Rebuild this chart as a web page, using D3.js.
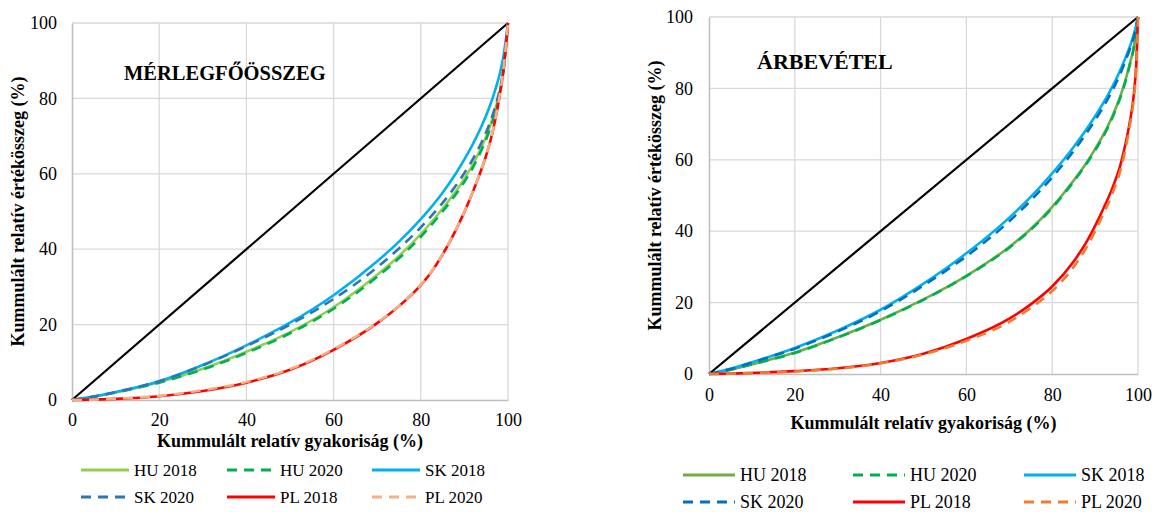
<!DOCTYPE html>
<html><head><meta charset="utf-8">
<script src="https://cdn.jsdelivr.net/npm/d3@7"></script>
<style>
body{margin:0;background:#fff;}
text{font-family:"Liberation Serif","Times New Roman",serif;fill:#000;}
</style></head>
<body><svg id="c" width="1152" height="512"></svg>
<script>
// ---------- DATA ----------
const xTicks = [0, 20, 40, 60, 80, 100];
const yTicks = [0, 20, 40, 60, 80, 100];
const seriesNames = ["HU 2018", "HU 2020", "SK 2018", "SK 2020", "PL 2018", "PL 2020"];
const equality = [[0, 0], [100, 100]];

// Mérlegfőösszeg (left)
const mHU2018 = [[0,0],[5,0.9],[10,2],[20,4.7],[30,8.3],[40,12.8],[50,18],[60,24.6],[70,33.2],[75,38.2],[80,44],[85,50.8],[88,55.3],[90,58.7],[92,62.6],[94,67.3],[96,73],[97,76.8],[98,81.3],[99,88],[100,100]];
const mHU2020 = [[0,0],[5,0.9],[10,2],[20,4.6],[30,8.1],[40,12.5],[50,17.7],[60,24.2],[70,32.7],[75,37.6],[80,43.3],[85,50],[88,54.5],[90,57.9],[92,61.8],[94,66.5],[96,72.3],[97,76],[98,80.6],[99,87.4],[100,100]];
const mSK2018 = [[0,0],[5,0.9],[10,2.1],[20,5],[30,9.3],[40,14.5],[50,20.5],[60,27.8],[70,36.8],[75,42],[80,48],[85,55],[88,60],[90,63.8],[92,68],[94,72.8],[96,78.5],[97,82],[98,86],[99,91.5],[100,100]];
const mSK2020 = [[0,0],[5,0.9],[10,2.1],[20,5],[30,9.2],[40,14.3],[50,20],[60,26.8],[70,35.2],[75,40.2],[80,45.8],[85,52.3],[88,56.8],[90,60.2],[92,64],[94,68.5],[96,74],[97,77.5],[98,81.8],[99,88],[100,100]];
const mPL2018 = [[0,0],[5,0.1],[10,0.3],[20,1],[30,2.4],[40,4.6],[50,8],[60,13.3],[70,20.4],[75,24.9],[78,28.1],[80,30.5],[82,33.3],[84,36.7],[86,40.6],[88,45],[90,49.9],[92,55.4],[94,61.5],[95,64.9],[96,68.9],[97,73.9],[98,80.1],[99,88.1],[100,100]];
const mPL2020 = [[0,0],[5,0.1],[10,0.35],[20,1.1],[30,2.6],[40,4.8],[50,8.2],[60,13.5],[70,20.5],[75,25],[78,28.2],[80,30.6],[82,33.4],[84,36.8],[86,40.7],[88,45.1],[90,50],[92,55.5],[94,61.6],[95,65],[96,69],[97,74],[98,80.2],[99,88.2],[100,100]];

// Árbevétel (right)
const aHU2018 = [[0,0],[5,1.2],[10,2.7],[20,6],[30,10.3],[40,15.2],[50,20.9],[60,27.5],[70,35.6],[75,40.6],[80,46.8],[85,54.2],[88,59.2],[90,63],[93,69.5],[95,75],[97,82],[98,86.5],[99,91.5],[100,100]];
const aHU2020 = [[0,0],[5,1.2],[10,2.7],[20,5.9],[30,10.2],[40,15.1],[50,20.8],[60,27.4],[70,35.4],[75,40.4],[80,46.5],[85,53.9],[88,58.9],[90,62.6],[93,69.1],[95,74.6],[97,81.6],[98,86.2],[99,91.2],[100,100]];
const aSK2018 = [[0,0],[5,1.5],[10,3.3],[20,7.3],[30,12.2],[40,18],[50,25.3],[60,33.8],[70,43.8],[75,49.6],[80,56.2],[85,63.6],[90,72.2],[93,78.2],[95,82.8],[97,88.3],[98,91.4],[99,95],[100,100]];
const aSK2020 = [[0,0],[5,1.4],[10,3.2],[20,7.1],[30,11.9],[40,17.6],[50,24.8],[60,33],[70,42.8],[75,48.6],[80,55.1],[85,62.5],[90,71.1],[93,77.1],[95,81.8],[97,87.5],[98,90.7],[99,94.4],[100,100]];
const aPL2018 = [[0,0],[5,0.1],[10,0.3],[20,0.8],[30,1.6],[40,3.1],[50,5.7],[60,9.8],[70,15.5],[75,19.5],[80,24.5],[85,31.5],[88,37],[90,41.5],[92,46.5],[94,52],[96,59],[97,64],[98,70],[99,78],[99.6,87],[100,100]];
const aPL2020 = [[0,0],[5,0.1],[10,0.3],[20,0.7],[30,1.5],[40,3],[50,5.5],[60,9.3],[70,14.6],[75,18.5],[80,23.2],[85,30],[88,35.5],[90,40],[92,45],[94,50.5],[96,57.5],[97,62.5],[98,69],[99,77],[99.6,86],[100,100]];

const leftSeries = [mHU2018, mHU2020, mSK2018, mSK2020, mPL2018, mPL2020];
const rightSeries = [aHU2018, aHU2020, aSK2018, aSK2020, aPL2018, aPL2020];
const leftTitle = "MÉRLEGFŐÖSSZEG";
const rightTitle = "ÁRBEVÉTEL";
const xLabel = "Kummulált relatív gyakoriság (%)";
const yLabel = "Kummulált relatív értékösszeg (%)";

// ---------- STYLES ----------
const leftColors = ["#92d050", "#00b050", "#00b0f0", "#2e75b6", "#ff0000", "#f4b183"];
const rightColors = ["#70ad47", "#00b050", "#00b0f0", "#0070c0", "#ff0000", "#ed7d31"];
const dashed = [false, true, false, true, false, true];

const svg = d3.select("#c");

function panel(cfg) {
  const x = d3.scaleLinear().domain([0, 100]).range([cfg.x0, cfg.x1]);
  const y = d3.scaleLinear().domain([0, 100]).range([cfg.y0, cfg.y1]);
  const g = svg.append("g");

  // gridlines
  g.append("g").selectAll("line").data(xTicks.filter(d => d > 0)).join("line")
    .attr("x1", d => x(d)).attr("x2", d => x(d)).attr("y1", y(0)).attr("y2", y(100))
    .attr("stroke", "#d9d9d9").attr("stroke-width", 1.3);
  g.append("g").selectAll("line").data(yTicks.filter(d => d > 0)).join("line")
    .attr("x1", x(0)).attr("x2", x(100)).attr("y1", d => y(d)).attr("y2", d => y(d))
    .attr("stroke", "#d9d9d9").attr("stroke-width", 1.3);

  // axes
  const xa = g.append("g").attr("transform", `translate(0,${y(0)})`)
    .call(d3.axisBottom(x).tickValues(xTicks).tickSize(0).tickPadding(cfg.xPad));
  const ya = g.append("g").attr("transform", `translate(${x(0)},0)`)
    .call(d3.axisLeft(y).tickValues(yTicks).tickSize(0).tickPadding(cfg.yPad));
  [xa, ya].forEach(a => {
    a.select(".domain").attr("stroke", "#bfbfbf").attr("stroke-width", 1.6);
    a.selectAll("text").style("font-family", '"Liberation Serif","Times New Roman",serif')
      .style("font-size", cfg.tickSize + "px").attr("fill", "#000");
  });

  // equality line
  const line = d3.line().x(d => x(d[0])).y(d => y(d[1])).curve(d3.curveMonotoneX);
  g.append("path").datum(equality).attr("d", d3.line().x(d => x(d[0])).y(d => y(d[1])))
    .attr("fill", "none").attr("stroke", "#000").attr("stroke-width", 2.2);

  cfg.series.forEach((s, i) => {
    g.append("path").datum(s).attr("d", line).attr("fill", "none")
      .attr("stroke", cfg.colors[i]).attr("stroke-width", 2.6)
      .attr("stroke-dasharray", dashed[i] ? "10,7" : null);
  });

  // title
  g.append("text").attr("x", cfg.titleX).attr("y", cfg.titleY)
    .style("font-size", cfg.titleSize + "px").style("font-weight", "bold").text(cfg.title);

  // axis titles
  g.append("text").attr("x", (x(0) + x(100)) / 2).attr("y", cfg.xTitleY).attr("text-anchor", "middle")
    .style("font-size", cfg.axTitleSize + "px").style("font-weight", "bold").text(xLabel);
  g.append("text").attr("transform", `translate(${cfg.yTitleX},${(y(0) + y(100)) / 2}) rotate(-90)`)
    .attr("text-anchor", "middle")
    .style("font-size", cfg.axTitleSize + "px").style("font-weight", "bold").text(yLabel);

  // legend
  seriesNames.forEach((n, i) => {
    const col = i % 3, row = Math.floor(i / 3);
    const lx = cfg.legX[col], ly = cfg.legY[row];
    g.append("line").attr("x1", lx).attr("x2", lx + cfg.legLen).attr("y1", ly).attr("y2", ly)
      .attr("stroke", cfg.colors[i]).attr("stroke-width", 2.8)
      .attr("stroke-dasharray", dashed[i] ? "10,7" : null);
    g.append("text").attr("x", lx + cfg.legLen + 5).attr("y", ly).attr("dy", "0.35em")
      .style("font-size", cfg.legSize + "px").text(n);
  });
}

panel({
  x0: 72, x1: 508, y0: 400, y1: 23, xPad: 13, yPad: 15, tickSize: 18,
  series: leftSeries, colors: leftColors, title: leftTitle, titleX: 124, titleY: 80, titleSize: 20.5,
  xTitleY: 447, yTitleX: 24, axTitleSize: 18,
  legX: [81, 227, 372], legY: [470, 497], legLen: 48, legSize: 17
});
panel({
  x0: 709, x1: 1138, y0: 374, y1: 17, xPad: 14, yPad: 16, tickSize: 18,
  series: rightSeries, colors: rightColors, title: rightTitle, titleX: 757, titleY: 69, titleSize: 22,
  xTitleY: 429, yTitleX: 661, axTitleSize: 18,
  legX: [683, 853, 1024], legY: [475, 502], legLen: 52, legSize: 18
});
</script></body></html>
